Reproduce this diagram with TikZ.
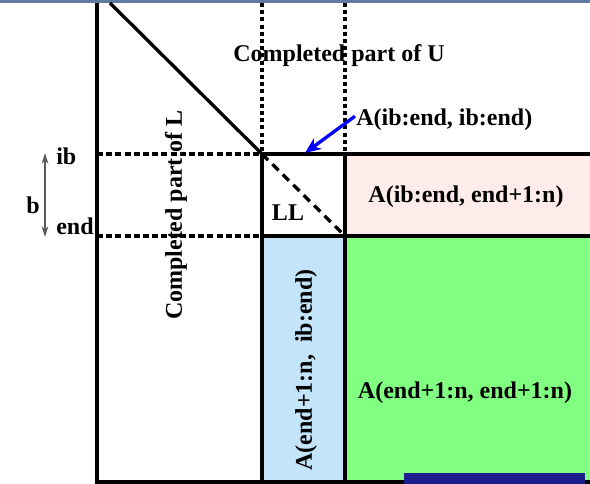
\documentclass[tikz,border=0pt]{standalone}
\usepackage{fontspec}
\setmainfont{Liberation Serif}
\usetikzlibrary{arrows.meta}
\definecolor{pinkfill}{HTML}{FDECEA}
\definecolor{bluefill}{HTML}{C4E4FA}
\definecolor{greenfill}{HTML}{80FF80}
\definecolor{topstrip}{HTML}{5F7C9E}
\definecolor{navybox}{HTML}{1C1C8C}
\tikzset{
  solidln/.style={line width=2.5pt},
  dotln/.style={line width=2.5pt, dash pattern=on 3pt off 2.4pt},
  dashln/.style={line width=2.5pt, dash pattern=on 4.5pt off 2.4pt},
  diagdash/.style={line width=2.5pt, dash pattern=on 6.5pt off 4.5pt},
  lbl/.style={font=\fontsize{18}{20}\selectfont\bfseries, inner sep=0pt},
}
\begin{document}
\begin{tikzpicture}[x=0.75pt, y=-0.75pt]
\useasboundingbox (0,0) rectangle (590,484);
\fill[white] (0,0) rectangle (590,484);
\fill[topstrip] (0,0) rectangle (590,3);
% coordinates
\coordinate (TL) at (97,3);
\coordinate (BL) at (97,482);
\coordinate (D0) at (110,3);
\coordinate (P) at (262,154);
\coordinate (V1) at (262,3);
\coordinate (V2) at (345,3);
\coordinate (Q) at (345,154);
\coordinate (R) at (590,154);
\coordinate (ibL) at (97,154);
\coordinate (endL) at (97,236);
\coordinate (S) at (262,236);
\coordinate (T) at (345,236);
\coordinate (U) at (590,236);
\coordinate (B1) at (262,482);
\coordinate (B2) at (345,482);
\coordinate (BR) at (590,482);
% fills
\fill[pinkfill] (Q) rectangle (U);
\fill[bluefill] (S) rectangle (B2);
\fill[greenfill] (T) rectangle (BR);
% dotted / dashed guides
\draw[dotln] (V1) -- (P);
\draw[dotln] (V2) -- (Q);
\draw[dashln] (ibL) -- (P);
\draw[dashln] (endL) -- (S);
\draw[diagdash] (P) -- (T);
% solid lines
\draw[solidln] (TL) -- (BL) -- (BR);
\draw[solidln] (D0) -- (P);
\draw[solidln] (P) -- (R);
\draw[solidln] (S) -- (U);
\draw[solidln] (P) -- (B1);
\draw[solidln] (Q) -- (B2);
% labels
\node[lbl, anchor=base] (cu) at (339,62) {Completed part of U};
\node[lbl, anchor=base west] (aii) at (356,126) {A(ib:end, ib:end)};
\node[lbl, anchor=base] (aie) at (466,203) {A(ib:end, end+1:n)};
\node[lbl, anchor=base] (ll) at (288,221) {LL};
\node[lbl, anchor=base] (aee) at (465,399) {A(end+1:n, end+1:n)};
\node[lbl, rotate=90] (cl) at (176,215) {Completed part of L};
\node[lbl, rotate=90] (aei) at (306,370) {A(end+1:n,\ \ ib:end)};
\node[lbl, anchor=base west] (ib) at (56,165) {ib};
\node[lbl, anchor=base west] (bb) at (26,214) {b};
\node[lbl, anchor=base west] (en) at (56,235) {end};
% blue arrow
\coordinate (arrtip) at (305,153);
\draw[blue, line width=2.5pt, -{Stealth[length=12pt,width=10pt]}] (aii.west) ++(-1,-4) -- (arrtip);
% b arrow
\coordinate (bt) at (45,153);
\coordinate (bbm) at (45,237);
\draw[gray!70!black, line width=0.9pt, {Stealth[length=8pt,width=5pt,open]}-{Stealth[length=8pt,width=5pt,open]}] (bt) -- (bbm);
% watermark box
\fill[navybox] (404,473) rectangle (585,484);
\end{tikzpicture}
\end{document}
